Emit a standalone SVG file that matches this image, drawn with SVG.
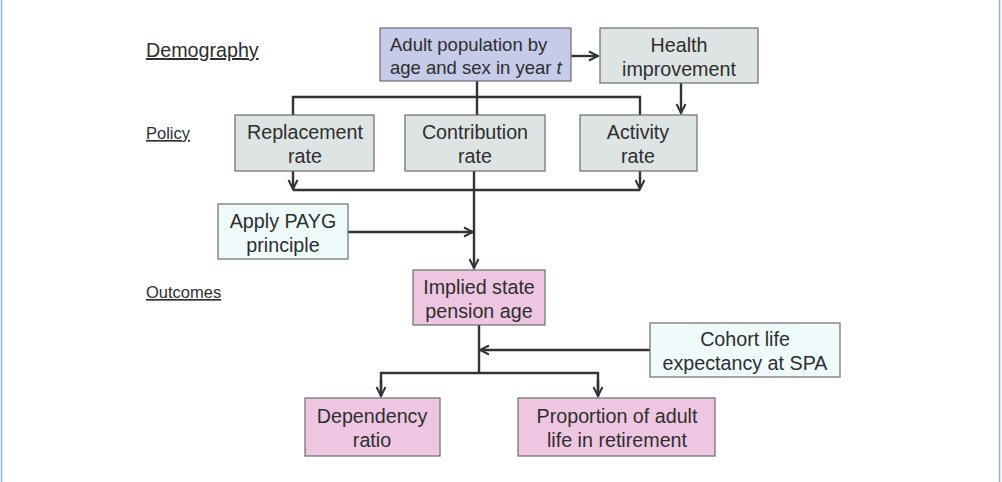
<svg xmlns="http://www.w3.org/2000/svg" width="1002" height="482" viewBox="0 0 1002 482">
<defs>
<marker id="ah" viewBox="0 0 12 12" refX="10.5" refY="6" markerWidth="12" markerHeight="12" markerUnits="userSpaceOnUse" orient="auto">
<path d="M1.5,1.5 L10.5,6 L1.5,10.5" fill="none" stroke="#333" stroke-width="2"/>
</marker>
<style>
.box{stroke:#6d6d6d;stroke-width:1.2}
.t{font-family:"Liberation Sans",Arial,sans-serif;font-size:19.7px;fill:#2e2e2e;text-anchor:middle}
.lab{font-family:"Liberation Sans",Arial,sans-serif;fill:#2e2e2e;text-decoration:underline}
.c{fill:none;stroke:#333;stroke-width:2.4}
.blue{fill:#c5cbe9}.gray{fill:#dee3e3}.cyan{fill:#effafa}.pink{fill:#eec6e2}
</style>
</defs>
<rect x="0" y="0" width="1002" height="482" fill="#fff"/>
<line x1="1.5" y1="0" x2="1.5" y2="482" stroke="#8fb4dc" stroke-width="1.5"/>
<line x1="999.5" y1="0" x2="999.5" y2="482" stroke="#8fb4dc" stroke-width="1.5"/>
<text class="lab" x="146" y="57" font-size="19.7">Demography</text>
<text class="lab" x="146" y="139" font-size="16.5">Policy</text>
<text class="lab" x="146" y="298" font-size="16.5">Outcomes</text>
<g id="connectors">
<line class="c" x1="571" y1="56" x2="598" y2="56" marker-end="url(#ah)"/>
<polyline class="c" points="477,81 477,97"/>
<polyline class="c" points="293,115 293,97 640,97 640,115"/>
<line class="c" x1="477" y1="97" x2="477" y2="115"/>
<line class="c" x1="681" y1="83" x2="681" y2="113" marker-end="url(#ah)" stroke-width="1.8"/>
<line class="c" x1="293" y1="171" x2="293" y2="189" marker-end="url(#ah)"/>
<line class="c" x1="640" y1="171" x2="640" y2="189" marker-end="url(#ah)"/>
<line class="c" x1="293" y1="190" x2="640" y2="190"/>
<line class="c" x1="474" y1="171" x2="474" y2="268" marker-end="url(#ah)"/>
<line class="c" x1="348" y1="232" x2="473" y2="232" marker-end="url(#ah)"/>
<line class="c" x1="479" y1="325" x2="479" y2="373"/>
<line class="c" x1="650" y1="350" x2="480" y2="350" marker-end="url(#ah)"/>
<polyline class="c" points="381,396 381,373 598,373 598,396"/>
<line class="c" x1="381" y1="380" x2="381" y2="396" marker-end="url(#ah)"/>
<line class="c" x1="598" y1="380" x2="598" y2="396" marker-end="url(#ah)"/>
</g>
<g id="adult"><rect class="box blue" x="380" y="28" width="191" height="53"/>
<text class="t" x="390" y="51" style="text-anchor:start;font-size:18.5px">Adult population by</text>
<text class="t" x="390" y="74" style="text-anchor:start;font-size:18.5px">age and sex in year <tspan font-style="italic">t</tspan></text></g>
<g id="health"><rect class="box gray" x="600" y="28" width="158" height="55"/>
<text class="t" x="679" y="52">Health</text><text class="t" x="679" y="76">improvement</text></g>
<g id="replacement"><rect class="box gray" x="235" y="115" width="139" height="56"/>
<text class="t" x="305" y="139">Replacement</text><text class="t" x="305" y="163">rate</text></g>
<g id="contribution"><rect class="box gray" x="405" y="115" width="140" height="56"/>
<text class="t" x="475" y="139">Contribution</text><text class="t" x="475" y="163">rate</text></g>
<g id="activity"><rect class="box gray" x="580" y="115" width="117" height="56"/>
<text class="t" x="638" y="139">Activity</text><text class="t" x="638" y="163">rate</text></g>
<g id="payg"><rect class="box cyan" x="218" y="204" width="130" height="55"/>
<text class="t" x="283" y="228">Apply PAYG</text><text class="t" x="283" y="252">principle</text></g>
<g id="spa"><rect class="box pink" x="413" y="270" width="132" height="55"/>
<text class="t" x="479" y="294">Implied state</text><text class="t" x="479" y="318">pension age</text></g>
<g id="cohort"><rect class="box cyan" x="650" y="323" width="190" height="54"/>
<text class="t" x="745" y="346">Cohort life</text><text class="t" x="745" y="370">expectancy at SPA</text></g>
<g id="dependency"><rect class="box pink" x="305" y="398" width="135" height="58"/>
<text class="t" x="372" y="423">Dependency</text><text class="t" x="372" y="447">ratio</text></g>
<g id="proportion"><rect class="box pink" x="518" y="398" width="197" height="58"/>
<text class="t" x="617" y="423">Proportion of adult</text><text class="t" x="617" y="447">life in retirement</text></g>
</svg>
